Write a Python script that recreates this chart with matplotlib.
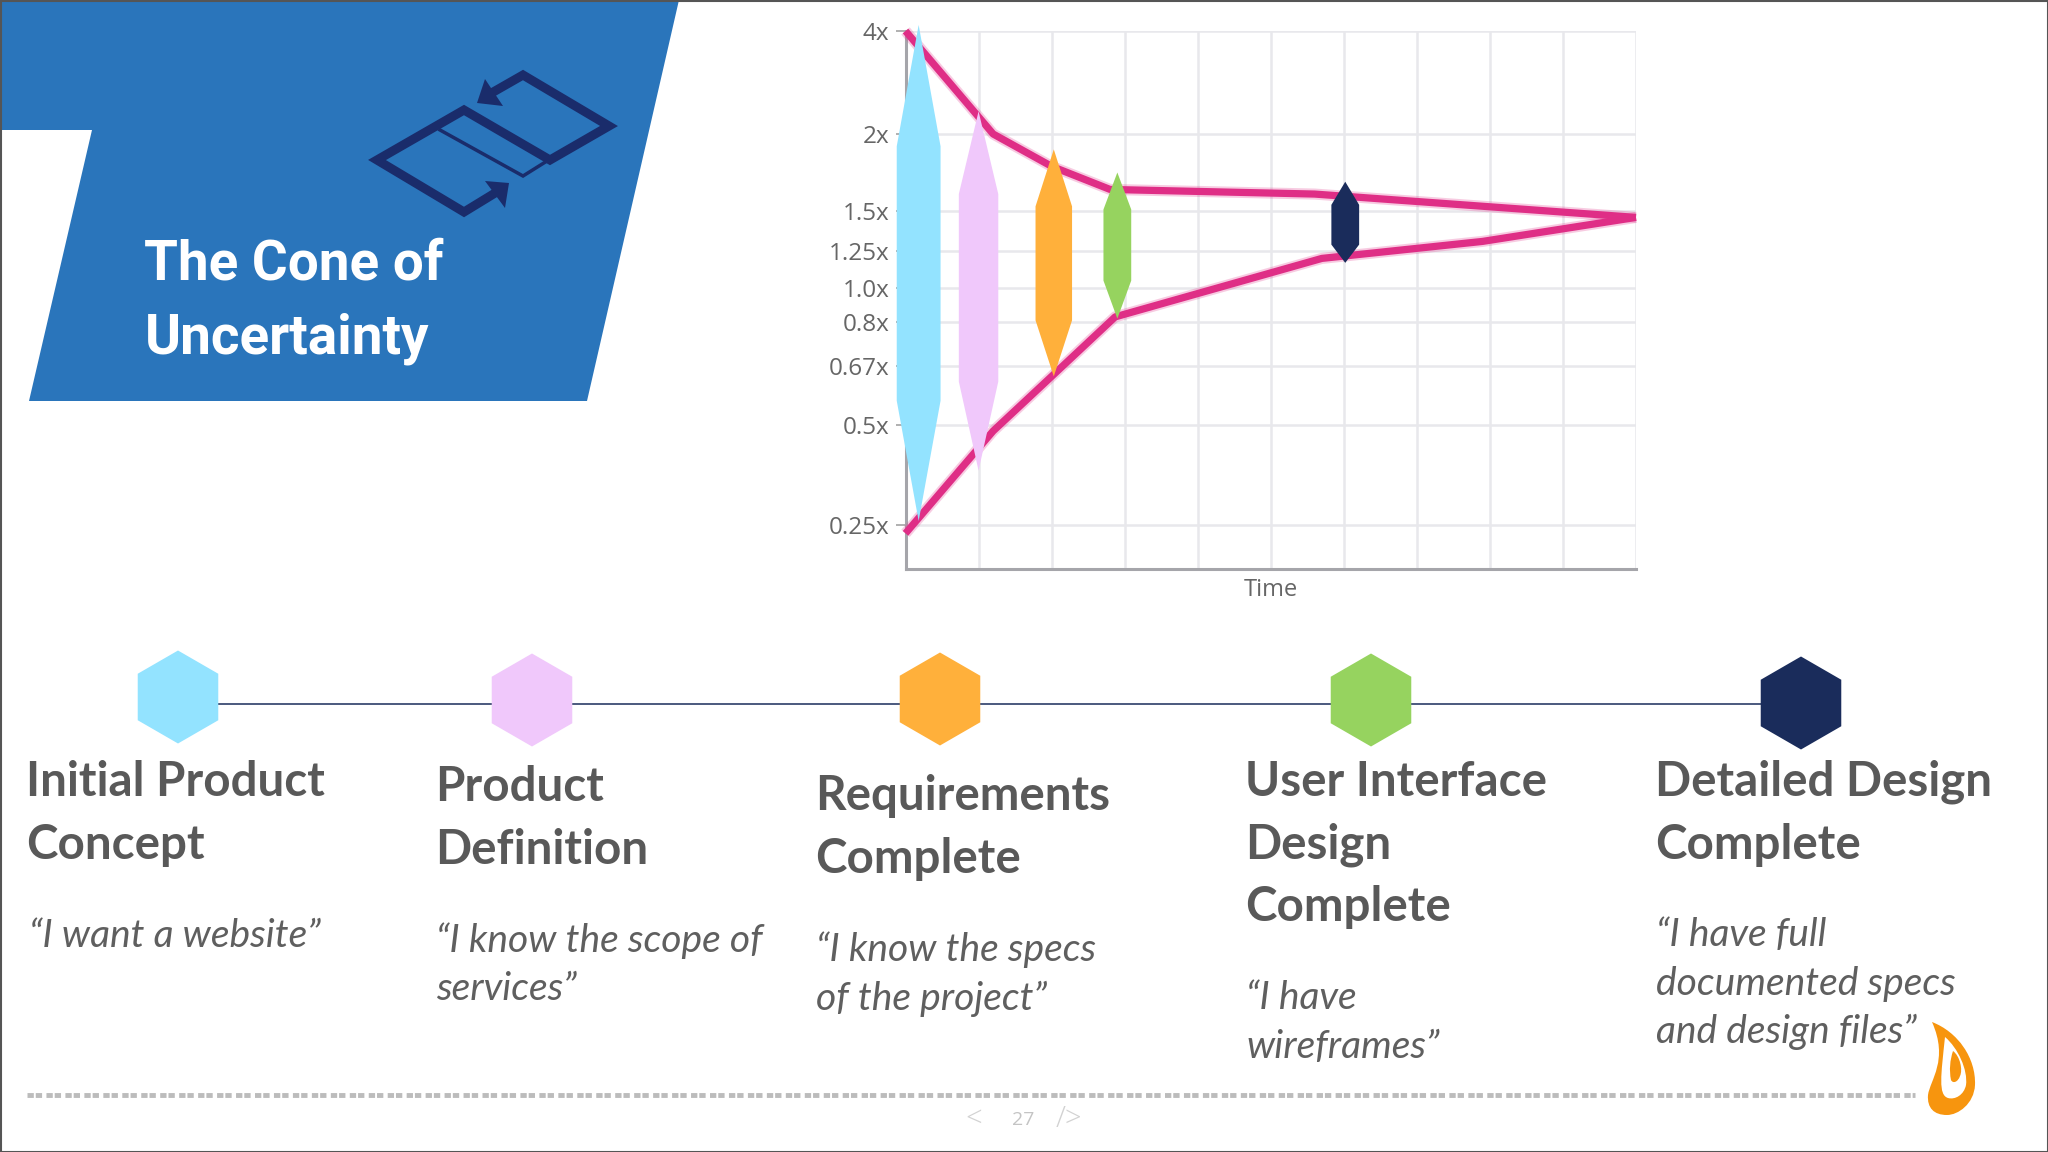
import numpy as np
import matplotlib
matplotlib.use("Agg")
import matplotlib.pyplot as plt
from matplotlib.patches import Polygon, RegularPolygon, PathPatch
from matplotlib.path import Path

# cone of uncertainty
tick_vals = [0.25, 0.5, 0.67, 0.8, 1.0, 1.25, 1.5, 2, 4]
tick_labels = ["0.25x", "0.5x", "0.67x", "0.8x", "1.0x", "1.25x", "1.5x", "2x", "4x"]
upper_x = [0, 1.2, 2.0, 2.8, 5.6, 10]
upper_y = [4, 2, 1.79, 1.64, 1.61, 1.46]
lower_x = [0, 1.2, 2.0, 2.87, 5.7, 7.9, 10]
lower_y = [0.231, 0.485, 0.64, 0.83, 1.2, 1.31, 1.46]

# stage markers on the cone: centre, half width, top, shoulder, shoulder, bottom
stage_x = [0.18, 1.0, 2.03, 2.9, 6.02]
stage_hw = [0.30, 0.27, 0.25, 0.19, 0.19]
stage_top = [4.15, 2.44, 1.9, 1.75, 1.69]
stage_hi = [1.92, 1.61, 1.53, 1.51, 1.54]
stage_lo = [0.57, 0.625, 0.81, 1.05, 1.29]
stage_bot = [0.26, 0.386, 0.64, 0.82, 1.17]
stage_col = ["#93e3ff", "#f0c8fb", "#ffb03b", "#96d35f", "#1a2c5b"]

titles = ["Initial Product\nConcept", "Product\nDefinition", "Requirements\nComplete",
          "User Interface\nDesign\nComplete", "Detailed Design\nComplete"]
quotes = ["“I want a website”", "“I know the scope of\nservices”", "“I know the specs\nof the project”",
          "“I have\nwireframes”", "“I have full\ndocumented specs\nand design files”"]
hex_x = [178, 532, 940, 1371, 1801]
hex_y = [697, 700, 699, 700, 703]
text_x = [26, 435, 815, 1245, 1655]
title_y = [782, 787, 796, 782, 782]
quote_y = [936, 941, 950, 998, 935]

# scale: height above the x axis in pixels at each value
scale_v = [0.05, 0.15, 0.25, 0.5, 0.67, 0.8, 1.0, 1.25, 1.5, 2, 4, 8]
scale_p = [-60, 0, 44, 144, 203, 247, 281, 318, 358, 435, 538, 700]

fig = plt.figure(figsize=(20.48, 11.52), dpi=100, facecolor="white")
bg = fig.add_axes([0, 0, 1, 1])
bg.set_xlim(0, 2048)
bg.set_ylim(1152, 0)
bg.axis("off")

# banner
bg.add_patch(Polygon([(0, 0), (679, 0), (587, 401), (29, 401), (92, 130), (0, 130)], fc="#2a75bb", ec="none"))
navy = "#1a2c6b"
bg.plot([500, 464, 377, 464, 550, 609, 523, 488], [190, 212, 160, 110, 160, 126, 75, 95],
        color=navy, lw=6.5, solid_joinstyle="miter")
bg.plot([440, 523, 547], [130, 176, 161], color=navy, lw=2.5, solid_joinstyle="miter")
bg.add_patch(Polygon([(509, 183), (485, 181), (505, 208)], fc=navy, ec="none"))
bg.add_patch(Polygon([(477, 103), (503, 106), (485, 79)], fc=navy, ec="none"))
bg.text(144, 265, "The Cone of", color="white", fontsize=39.5, fontweight="bold", family="Roboto", va="center")
bg.text(145, 339, "Uncertainty", color="white", fontsize=39.5, fontweight="bold", family="Roboto", va="center")

# timeline
bg.plot([178, 1801], [704, 704], color="#1a2c5b", lw=1.1, zorder=1)
for i in range(5):
    bg.add_patch(RegularPolygon((hex_x[i], hex_y[i]), 6, radius=46.5, orientation=0, fc=stage_col[i], ec="none", zorder=2))
    lines = titles[i].split("\n")
    for j, s in enumerate(lines):
        bg.text(text_x[i], title_y[i] + j * 62.7, s, family="Lato", fontweight="bold", fontsize=34.2,
                color="#595959", va="center")
    lines = quotes[i].split("\n")
    for j, s in enumerate(lines):
        bg.text(text_x[i] + (3 if i == 0 else 1), quote_y[i] + j * 48.5, s, family="Lato", style="italic", fontsize=28.1,
                color="#5f5f5f", va="center")

# footer
bg.plot([27, 1915], [1095, 1095], color="#bcbcbc", lw=3.5, linestyle=(0, (1.3, 0.4, 1.3, 0.9)))
bg.text(974, 1119, "<", color="#d2d2d2", fontsize=21, ha="center", va="center", family="Open Sans", fontweight="light")
bg.text(1023, 1120, "27", color="#c4c4c4", fontsize=14, ha="center", va="center", family="Open Sans")
bg.text(1069, 1119, "/>", color="#d2d2d2", fontsize=21, ha="center", va="center", family="Open Sans", fontweight="light")

# flame logo
C = Path.CURVE4
flame = Path([(1932, 1022), (1958, 1032), (1976, 1058), (1975, 1085), (1974, 1104), (1958, 1115), (1947, 1115),
              (1934, 1115), (1927, 1108), (1928, 1095), (1930, 1080), (1949, 1060), (1932, 1022)],
             [Path.MOVETO] + [C] * 12)
hole = Path([(1945, 1037), (1958, 1048), (1968, 1070), (1966, 1085), (1964, 1095), (1955, 1100), (1948, 1098),
             (1938, 1095), (1941, 1075), (1945, 1037)], [Path.MOVETO] + [C] * 9)
core = Path([(1953, 1051), (1960, 1056), (1963, 1070), (1960, 1076), (1958, 1082), (1953, 1084), (1951, 1080),
             (1949, 1070), (1950, 1060), (1953, 1051)], [Path.MOVETO] + [C] * 9)
bg.add_patch(PathPatch(flame, fc="#f7950e", ec="none", zorder=3))
bg.add_patch(PathPatch(hole, fc="white", ec="none", zorder=3))
bg.add_patch(PathPatch(core, fc="#f7950e", ec="none", zorder=3))

# slide frame
bg.add_patch(plt.Rectangle((0.5, 0.5), 2047, 1151, fc="none", ec="#555555", lw=1.5, zorder=5))

# chart
W, H = 2048, 1152
ax = fig.add_axes([905.5 / W, 1 - 569 / H, 730.5 / W, 538 / H])
ax.patch.set_alpha(0)
ax.set_yscale("function", functions=(lambda v: np.interp(v, scale_v, scale_p),
                                     lambda p: np.interp(p, scale_p, scale_v)))
ax.set_xlim(0, 10)
ax.set_ylim(0.15, 4)
ax.set_xticks(range(11))
ax.set_yticks(tick_vals)
ax.set_yticklabels(tick_labels)
ax.minorticks_off()
ax.grid(True, color="#e8e8ec", lw=1.8)
ax.set_axisbelow(True)
ax.tick_params(axis="x", length=0, labelbottom=False)
ax.tick_params(axis="y", length=7, width=1.3, color="#aaaaaa", labelcolor="#666666", labelsize=17.5, pad=4.5)
for lab in ax.get_yticklabels():
    lab.set_family("Open Sans")
for s in ["top", "right"]:
    ax.spines[s].set_visible(False)
for s in ["left", "bottom"]:
    ax.spines[s].set_color("#a5a5aa")
    ax.spines[s].set_linewidth(2.2)
ax.set_xlabel("Time", color="#666666", fontsize=17, family="Open Sans", labelpad=6.5)

for xs, ys in [(upper_x, upper_y), (lower_x, lower_y)]:
    ax.plot(xs, ys, color="#e0338a", lw=8, alpha=0.25, clip_on=False, solid_joinstyle="round", solid_capstyle="butt", zorder=3)
    ax.plot(xs, ys, color="#df2e86", lw=5.2, clip_on=False, solid_joinstyle="round", solid_capstyle="butt", zorder=3)

for i in range(5):
    c, w = stage_x[i], stage_hw[i]
    ax.add_patch(Polygon([(c, stage_top[i]), (c + w, stage_hi[i]), (c + w, stage_lo[i]), (c, stage_bot[i]),
                          (c - w, stage_lo[i]), (c - w, stage_hi[i])],
                         fc=stage_col[i], ec="none", clip_on=False, zorder=4))

fig.savefig("out.png", dpi=100)
